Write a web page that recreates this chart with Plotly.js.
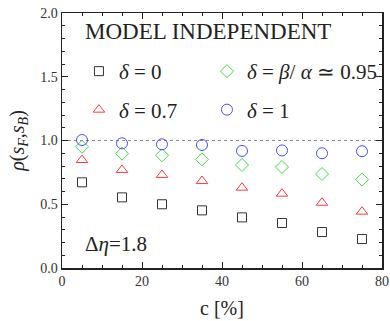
<!DOCTYPE html>
<html>
<head>
<meta charset="utf-8">
<script src="https://cdn.plot.ly/plotly-3.0.1.min.js"></script>
<style>html,body{margin:0;padding:0;background:#fff;}#chart{width:390px;height:321px;}</style>
</head>
<body>
<div id="chart"></div>
<script>
// Data
const cValues = [5, 15, 25, 35, 45, 55, 65, 75];
const rhoDelta0 = [0.672, 0.554, 0.500, 0.452, 0.397, 0.353, 0.282, 0.227];
const rhoDelta07 = [0.847, 0.769, 0.730, 0.682, 0.630, 0.583, 0.512, 0.442];
const rhoDeltaBA = [0.951, 0.897, 0.884, 0.852, 0.808, 0.792, 0.737, 0.693];
const rhoDelta1 = [1.004, 0.978, 0.970, 0.965, 0.918, 0.922, 0.900, 0.916];
const seriesNames = ['<i>δ</i> = 0', '<i>δ</i> = 0.7', '<i>δ</i> = <i>β</i>/ <i>α</i> ≃ 0.95', '<i>δ</i> = 1'];
const xTickVals = [0, 20, 40, 60, 80];
const yTickVals = [0, 0.5, 1.0, 1.5, 2.0];

const FONT = 'Liberation Serif, Times New Roman, serif';

const traces = [
  {x: cValues, y: rhoDelta0, name: seriesNames[0], type: 'scatter', mode: 'markers', legend: 'legend',
   marker: {symbol: 'square-open', size: 9, color: '#333333', line: {width: 1}}},
  {x: cValues, y: rhoDelta07, name: seriesNames[1], type: 'scatter', mode: 'markers', legend: 'legend2',
   marker: {symbol: 'triangle-up-open', size: 10, color: '#ff3b3b', line: {width: 1}}},
  {x: cValues, y: rhoDeltaBA, name: seriesNames[2], type: 'scatter', mode: 'markers', legend: 'legend3',
   marker: {symbol: 'diamond-open', size: 10, color: '#3be03b', line: {width: 1}}},
  {x: cValues, y: rhoDelta1, name: seriesNames[3], type: 'scatter', mode: 'markers', legend: 'legend4',
   marker: {symbol: 'circle-open', size: 11, color: '#4b4bff', line: {width: 1}}}
];

const legFont = {family: FONT, size: 21, color: '#222'};
const legBase = {orientation: 'h', xanchor: 'left', yanchor: 'middle', bgcolor: 'rgba(0,0,0,0)',
  borderwidth: 0, font: legFont, itemclick: false};

const layout = {
  width: 390, height: 321,
  margin: {l: 62, r: 8, t: 13, b: 53},
  paper_bgcolor: '#fff', plot_bgcolor: '#fff',
  font: {family: FONT, color: '#222'},
  showlegend: true,
  legend: Object.assign({}, legBase, {x: 0.053, y: 0.7706}),
  legend2: Object.assign({}, legBase, {x: 0.053, y: 0.6196}),
  legend3: Object.assign({}, legBase, {x: 0.453, y: 0.7706}),
  legend4: Object.assign({}, legBase, {x: 0.453, y: 0.6196}),
  xaxis: {
    range: [0, 80], tickvals: xTickVals, ticks: 'inside', ticklen: 6, tickwidth: 1, tickcolor: '#222',
    showline: true, linecolor: '#222', linewidth: 1.5, mirror: 'ticks', showgrid: false, zeroline: false,
    tickfont: {family: FONT, size: 14, color: '#333'},
    minor: {dtick: 5, ticks: 'inside', ticklen: 3, tickcolor: '#222', showgrid: false},
    title: {text: 'c [%]', font: {family: FONT, size: 20, color: '#222'}, standoff: 12}
  },
  yaxis: {
    range: [0, 2], tickvals: yTickVals, tickformat: '.1f', ticks: 'inside', ticklen: 6, tickwidth: 1, tickcolor: '#222',
    showline: true, linecolor: '#222', linewidth: 1.5, mirror: 'ticks', showgrid: false, zeroline: false,
    tickfont: {family: FONT, size: 14, color: '#333'},
    minor: {dtick: 0.1, ticks: 'inside', ticklen: 3, tickcolor: '#222', showgrid: false},
    title: {text: '<i>ρ</i>(<i>s</i><sub><i>F</i></sub>,<i>s</i><sub><i>B</i></sub>)', font: {family: FONT, size: 20, color: '#222'}, standoff: 10}
  },
  shapes: [
    {type: 'line', xref: 'paper', yref: 'y', x0: 0, x1: 1, y0: 1, y1: 1,
     line: {color: '#888', width: 1, dash: '3px,3px'}, layer: 'below'}
  ],
  annotations: [
    {text: 'MODEL INDEPENDENT', xref: 'paper', yref: 'paper', x: 0.0656, y: 0.9255, xanchor: 'left', yanchor: 'middle',
     showarrow: false, font: {family: FONT, size: 23, color: '#222'}},
    {text: 'Δ<i>η</i>=1.8', xref: 'paper', yref: 'paper', x: 0.0656, y: 0.094, xanchor: 'left', yanchor: 'middle',
     showarrow: false, font: {family: FONT, size: 21, color: '#222'}}
  ]
};

Plotly.newPlot('chart', traces, layout, {displayModeBar: false, staticPlot: true});
</script>
</body>
</html>
